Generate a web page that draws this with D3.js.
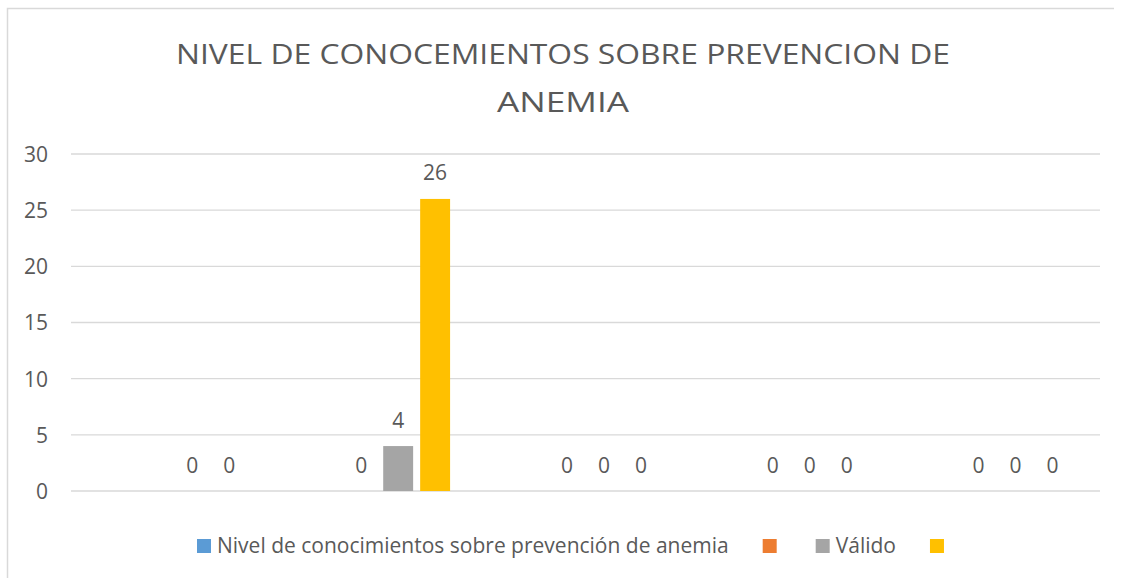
<!DOCTYPE html>
<html>
<head>
<meta charset="utf-8">
<script src="https://cdn.jsdelivr.net/npm/d3@7"></script>
<style>
  body { margin: 0; background: #fff; }
  text { font-family: "Open Sans", sans-serif; fill: #595959; }
</style>
</head>
<body>
<div id="chart"></div>
<script>
var svgWidth = 1124;
var svgHeight = 578;

// categories have no visible names in the original chart
var categories = ["c1", "c2", "c3", "c4", "c5"];
var seriesNames = ["Nivel de conocimientos sobre prevención de anemia", "", "Válido", ""];
var seriesKeys = ["s1", "s2", "s3", "s4"];
var seriesColors = ["#5B9BD5", "#ED7D31", "#A5A5A5", "#FFC000"];

// null = no value (no bar, no label)
var s1Values = [null, null, null, null, null];
var s2Values = [null, 0, 0, 0, 0];
var s3Values = [0, 4, 0, 0, 0];
var s4Values = [0, 26, 0, 0, 0];

var yTicks = [0, 5, 10, 15, 20, 25, 30];
var titleLines = ["NIVEL DE CONOCEMIENTOS SOBRE PREVENCION DE", "ANEMIA"];

var allValues = [s1Values, s2Values, s3Values, s4Values];

var svg = d3.select("#chart")
  .append("svg")
  .attr("width", svgWidth)
  .attr("height", svgHeight);

// chart area border (top + left visible)
svg.append("path")
  .attr("d", "M7.5,600 V8.5 H1114")
  .attr("fill", "none")
  .attr("stroke", "#d9d9d9")
  .attr("stroke-width", 1.5);

// title
var titleWidths = [774, 132];
var title = svg.append("g");
title.selectAll("text")
  .data(titleLines)
  .enter()
  .append("text")
  .attr("x", 563)
  .attr("y", (d, i) => 64 + i * 48)
  .attr("text-anchor", "middle")
  .attr("textLength", (d, i) => titleWidths[i])
  .attr("lengthAdjust", "spacingAndGlyphs")
  .style("font-size", "27px")
  .text(d => d);

// scales
var x0 = d3.scaleBand()
  .domain(categories)
  .range([71, 1100]);

var x1 = d3.scaleBand()
  .domain(seriesKeys)
  .range([0, x0.bandwidth()])
  .paddingInner(0.19)
  .paddingOuter(0.88);

var y = d3.scaleLinear()
  .domain([0, 30])
  .range([491, 154]);

// gridlines
svg.append("g")
  .selectAll("line")
  .data(yTicks)
  .enter()
  .append("line")
  .attr("x1", 71)
  .attr("x2", 1100)
  .attr("y1", d => y(d))
  .attr("y2", d => y(d))
  .attr("stroke", "#d9d9d9")
  .attr("stroke-width", 1.3);

// y axis labels
var leftAxis = d3.axisLeft(y).tickValues(yTicks).tickSize(0).tickPadding(0);
var yAxis = svg.append("g")
  .attr("transform", "translate(48,0)")
  .call(leftAxis);
yAxis.select(".domain").remove();
yAxis.selectAll("text")
  .style("font-size", "21px")
  .style("font-family", "'Open Sans', sans-serif")
  .attr("fill", "#595959")
  .attr("dy", "0.35em");

// bars
var barData = [];
categories.forEach(function(c, ci) {
  seriesKeys.forEach(function(k, si) {
    var v = allValues[si][ci];
    if (v !== null) barData.push({cat: c, key: k, value: v, color: seriesColors[si]});
  });
});

svg.append("g")
  .selectAll("rect")
  .data(barData)
  .enter()
  .append("rect")
  .attr("x", d => x0(d.cat) + x1(d.key))
  .attr("y", d => y(d.value))
  .attr("width", x1.bandwidth())
  .attr("height", d => y(0) - y(d.value))
  .attr("fill", d => d.color);

// data labels
svg.append("g")
  .selectAll("text")
  .data(barData)
  .enter()
  .append("text")
  .attr("x", d => x0(d.cat) + x1(d.key) + x1.bandwidth() / 2)
  .attr("y", d => y(d.value) - 18.5)
  .attr("text-anchor", "middle")
  .style("font-size", "21px")
  .text(d => d.value);

// legend
var legend = svg.append("g").attr("transform", "translate(197,546)");
var lx = 0;
seriesNames.forEach(function(name, i) {
  var g = legend.append("g").attr("transform", `translate(${lx},0)`);
  g.append("rect")
    .attr("x", 0)
    .attr("y", -7)
    .attr("width", 14)
    .attr("height", 14)
    .attr("fill", seriesColors[i]);
  var tw = 0;
  if (name) {
    var t = g.append("text")
      .attr("x", 20)
      .attr("y", 0)
      .attr("dy", "0.35em")
      .style("font-size", "21px")
      .text(name);
    tw = t.node().getComputedTextLength();
  }
  lx += name ? 20 + tw + 34 : 53;
});
</script>
</body>
</html>
